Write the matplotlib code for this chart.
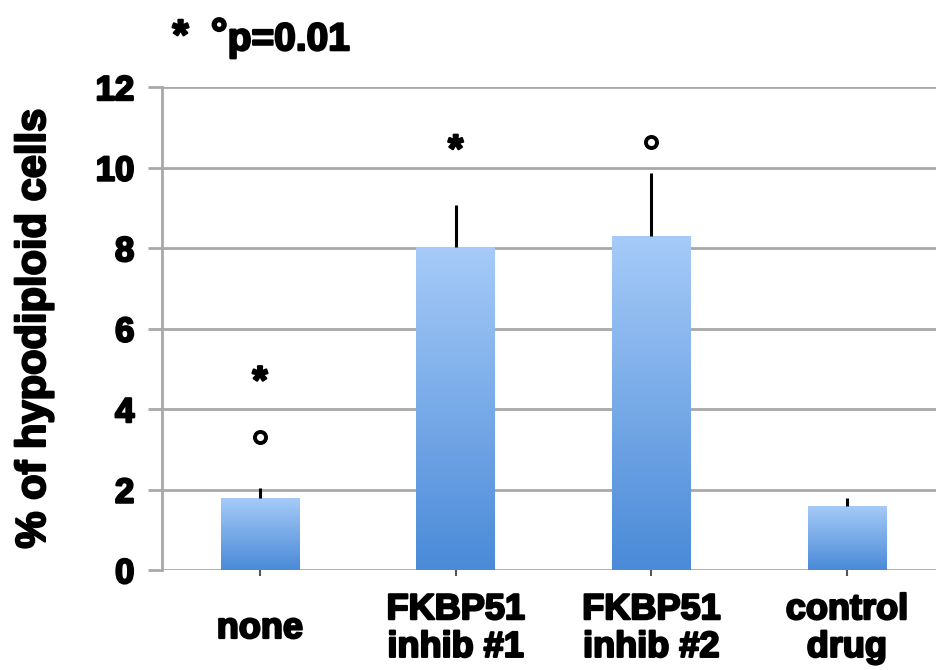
import numpy as np
import matplotlib
matplotlib.use("Agg")
import matplotlib.pyplot as plt
import matplotlib.patheffects as pe
from matplotlib.colors import LinearSegmentedColormap

plt.rcParams['font.family'] = ['Liberation Sans', 'DejaVu Sans']
plt.rcParams['font.weight'] = 'bold'

# data
categories = ["none", "FKBP51\ninhib #1", "FKBP51\ninhib #2", "control\ndrug"]
values = [1.79, 8.02, 8.30, 1.59]
errors = [0.25, 1.05, 1.56, 0.20]

# significance marks: (bar index, y position)
star_marks = [(0, 4.65), (1, 10.40)]
circle_marks = [(0, 3.30), (2, 10.63)]

yticks = [0, 2, 4, 6, 8, 10, 12]

grid_col = "#a8a8a8"
grad = LinearSegmentedColormap.from_list("bar", ["#4a8ad8", "#a6cbf8"])
heavy = [pe.withStroke(linewidth=1.6, foreground="black")]

fig = plt.figure(figsize=(9.37, 6.70), dpi=100)
ax = fig.add_axes([0.173, 0.149, 0.827, 0.721])

x = np.arange(len(categories))
bars = ax.bar(x, values, width=0.40, color="none", edgecolor="none", zorder=3)

# vertical gradient inside each bar
g = np.linspace(0, 1, 256).reshape(-1, 1)
for b in bars:
    x0, y0 = b.get_x(), b.get_y()
    w, h = b.get_width(), b.get_height()
    im = ax.imshow(g, cmap=grad, origin="lower", aspect="auto",
                   extent=[x0, x0 + w, y0, y0 + h], zorder=3)
    im.set_clip_path(b)

# upper error bars only
ax.errorbar(x, values, yerr=[np.zeros(len(values)), errors], fmt="none",
            ecolor="black", elinewidth=2.2, capsize=0, zorder=4)

for i, yy in star_marks:
    ax.text(x[i], yy, "*", ha="center", va="center", fontsize=28,
            fontweight="bold", zorder=5, path_effects=heavy)
for i, yy in circle_marks:
    ax.plot(x[i], yy, marker="o", ms=8, mfc="white", mec="black",
            mew=2.8, zorder=5)

ax.set_xlim(-0.5, 3.46)
ax.set_ylim(0, 12)
ax.set_yticks(yticks)
ax.set_yticklabels([str(t) for t in yticks])
ax.yaxis.grid(True, color=grid_col, linewidth=2.0, zorder=0)
ax.set_axisbelow(True)

for s in ["top", "right", "bottom"]:
    ax.spines[s].set_visible(False)
ax.spines["left"].set_color(grid_col)
ax.spines["left"].set_linewidth(2.0)

ax.tick_params(axis="y", length=10, width=2.0, color=grid_col, pad=10,
               labelsize=25)
ax.set_xticks(x)
ax.set_xticklabels(categories, fontsize=26, fontweight="bold",
                   linespacing=1.1)
ax.tick_params(axis="x", length=4, width=1.5, color="#555555", pad=38)
for lab in ax.get_xticklabels():
    lab.set_va("center")
    lab.set_path_effects(heavy)
for lab in ax.get_yticklabels():
    lab.set_fontweight("bold")
    lab.set_path_effects(heavy)

yl = ax.set_ylabel("% of hypodiploid cells", fontsize=30, fontweight="bold",
                   labelpad=30)
yl.set_path_effects(heavy)

fig.text(0.184, 0.944, "*", fontsize=30, fontweight="bold", va="center",
         path_effects=heavy)
fig.text(0.225, 0.946, "°", fontsize=30, fontweight="bold", va="center",
         path_effects=heavy)
fig.text(0.243, 0.940, "p=0.01", fontsize=28, fontweight="bold", va="center",
         path_effects=heavy)

fig.savefig("out.png", dpi=100)
